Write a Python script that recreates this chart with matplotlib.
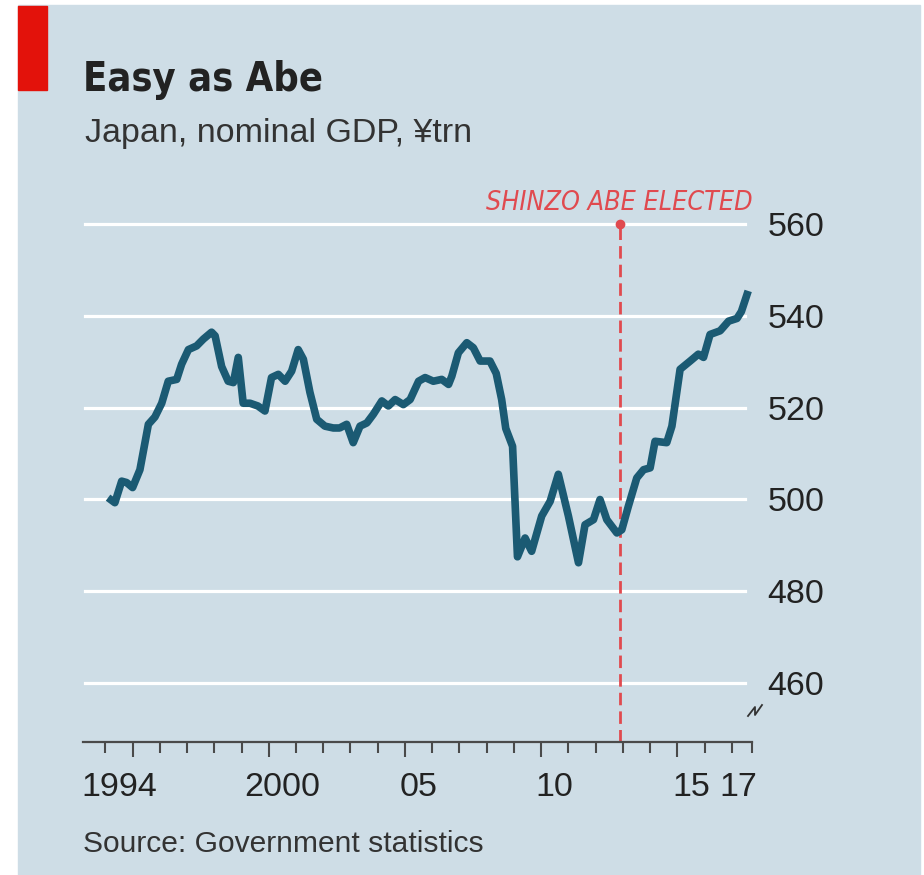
import matplotlib
matplotlib.use("Agg")
import matplotlib.pyplot as plt
from matplotlib import font_manager
from matplotlib.font_manager import FontProperties
from matplotlib.lines import Line2D
from matplotlib.patches import Rectangle

W, H = 924, 875

# PIB nominal du Japon (milliers de milliards de yens)
annees = [1994.1, 1994.35, 1994.6, 1994.78, 1995.0, 1995.27, 1995.58, 1995.82,
          1996.07, 1996.31, 1996.62, 1996.8, 1997.05, 1997.35, 1997.6, 1997.9,
          1998.03, 1998.27, 1998.51, 1998.7, 1998.88, 1999.06, 1999.31, 1999.6,
          1999.86, 2000.1, 2000.35, 2000.6, 2000.84, 2001.08, 2001.27, 2001.51,
          2001.76, 2002.06, 2002.37, 2002.6, 2002.86, 2003.1, 2003.35, 2003.6,
          2003.84, 2004.15, 2004.39, 2004.64, 2004.94, 2005.19, 2005.5, 2005.74,
          2006.04, 2006.35, 2006.6, 2006.72, 2006.96, 2007.27, 2007.51, 2007.76,
          2008.12, 2008.35, 2008.55, 2008.7, 2008.95, 2009.13, 2009.41, 2009.65,
          2010.02, 2010.33, 2010.63, 2011.0, 2011.37, 2011.61, 2011.92, 2012.16,
          2012.41, 2012.78, 2012.96, 2013.2, 2013.51, 2013.76, 2014.0, 2014.18,
          2014.61, 2014.8, 2015.1, 2015.47, 2015.77, 2015.96, 2016.2, 2016.57,
          2016.88, 2017.19, 2017.35, 2017.6]
pib = [500.4, 499.3, 504.0, 503.7, 502.6, 506.5, 516.4, 518.0,
       521.0, 525.8, 526.2, 529.5, 532.7, 533.5, 535.0, 536.5,
       535.7, 529.0, 525.8, 525.5, 531.0, 521.0, 521.0, 520.4,
       519.3, 526.6, 527.3, 525.8, 528.0, 532.7, 530.6, 523.4,
       517.5, 516.0, 515.6, 515.6, 516.4, 512.4, 516.0, 516.7,
       518.6, 521.5, 520.4, 521.8, 520.7, 521.8, 525.8, 526.6,
       525.8, 526.2, 525.1, 526.9, 532.0, 534.2, 533.1, 530.2,
       530.2, 527.5, 521.8, 515.5, 511.6, 487.5, 491.6, 488.7,
       496.4, 499.6, 505.5, 496.4, 486.2, 494.5, 495.6, 500.0,
       495.6, 492.7, 493.4, 498.5, 504.7, 506.5, 506.9, 512.7,
       512.4, 516.0, 528.4, 530.2, 531.7, 531.0, 536.0, 536.8,
       538.9, 539.5, 541.0, 545.5]

annee_abe = 2012.9
ticks_y = [460, 480, 500, 520, 540, 560]
labels_x = ["1994", "2000", "05", "10", "15", "17"]
pos_labels_x = [1994.5, 2000.5, 2005.5, 2010.5, 2015.5, 2017.25]

fond = "#cedde6"
bleu = "#1b5a73"
rouge = "#e3120b"
rouge_txt = "#e04a4f"
texte = "#222222"

police = "Liberation Sans"


# police étroite si dispo (sinon on garde Liberation Sans, taille ajustée plus bas)
def police_etroite(gras=False, italique=False):
    for f in font_manager.fontManager.ttflist:
        if f.stretch in ("condensed", "semi-condensed", 500, 600) or "Narrow" in f.name \
                or "Condensed" in f.name:
            if (f.weight in ("bold", 700)) == gras and (f.style != "normal") == italique:
                return FontProperties(fname=f.fname)
    return FontProperties(family=police, weight="bold" if gras else "normal",
                          style="italic" if italique else "normal")


def fx(x):
    return x / W


def fy(y):
    return 1 - y / H


fig = plt.figure(figsize=(W / 100, H / 100), dpi=100, facecolor="white")
fig.patches.append(Rectangle((fx(18), 0), fx(920) - fx(18), fy(5),
                             transform=fig.transFigure, color=fond, zorder=-2))
fig.patches.append(Rectangle((fx(18), fy(90)), fx(47) - fx(18), fy(6) - fy(90),
                             transform=fig.transFigure, color=rouge, zorder=-1))

# Axe principal
x0, x1, y_bas, y_haut = 83, 752, 742, 208.4
ax = fig.add_axes([fx(x0), fy(y_bas), fx(x1) - fx(x0), fy(y_haut) - fy(y_bas)])
ax.set_facecolor("none")
ax.set_xlim(1993.18, 2017.74)
ax.set_ylim(447.1, 563.5)

for v in ticks_y:
    ax.axhline(v, xmin=2 / 669, xmax=(745 - 83) / 669, color="white", lw=2.3, zorder=1)

ax.vlines(annee_abe, 447.1, ticks_y[-1], colors=rouge_txt, lw=2,
          linestyles=(0, (4.5, 2.2)), zorder=2)
ax.plot([annee_abe], [ticks_y[-1]], "o", color=rouge_txt, ms=6, zorder=3)

ax.plot(annees, pib, color=bleu, lw=5.5, solid_joinstyle="round",
        solid_capstyle="butt", zorder=4)

for s in ["left", "right", "top"]:
    ax.spines[s].set_visible(False)
ax.spines["bottom"].set_color("#4a4a4a")
ax.spines["bottom"].set_linewidth(1.6)

ax.yaxis.tick_right()
ax.set_yticks(ticks_y)
ax.set_yticklabels([str(v) for v in ticks_y], fontsize=24.5, family=police,
                   color=texte)
ax.tick_params(axis="y", length=0, pad=11)

ax.set_xticks([1995, 2000, 2005, 2010, 2015])
ax.set_xticks([a for a in range(1994, 2018) if a % 5 != 0] + [2017.74], minor=True)
ax.set_xticklabels([])
ax.tick_params(axis="x", which="major", length=11, width=1.5, color="#4a4a4a")
ax.tick_params(axis="x", which="minor", length=8, width=1.5, color="#4a4a4a")

for p, lab in zip(pos_labels_x, labels_x):
    ax.text(p, -(796 - y_bas) / (y_bas - y_haut), lab, transform=ax.get_xaxis_transform(),
            ha="center", va="baseline", fontsize=24.5, family=police, color=texte)

# Symbole de coupure de l'axe
fig.lines.append(Line2D([fx(748), fx(755), fx(755), fx(762)],
                        [fy(716), fy(707), fy(715), fy(705)],
                        transform=fig.transFigure, color="#333333", lw=1.3))

# Textes
titre = fig.text(fx(83), fy(91), "Easy as Abe", fontproperties=police_etroite(gras=True),
                 fontsize=34.5, color=texte, va="baseline")
fig.text(fx(85), fy(142), "Japan, nominal GDP, ¥trn", fontsize=24.5, family=police,
         color="#333333", va="baseline")
annot = fig.text(fx(753), fy(210), "SHINZO ABE ELECTED",
                 fontproperties=police_etroite(italique=True), fontsize=21,
                 color=rouge_txt, ha="right", va="baseline")
fig.text(fx(83), fy(852), "Source: Government statistics", fontsize=21.6,
         family=police, color="#333333", va="baseline")

# ajuster la taille pour retrouver la largeur du modèle
rendu = fig.canvas.get_renderer()
for t, largeur in [(titre, 240), (annot, 266)]:
    w = t.get_window_extent(rendu).width
    if w > largeur * 1.03:
        t.set_fontsize(t.get_fontsize() * largeur / w)

fig.savefig("out.png", dpi=100, facecolor="white")
